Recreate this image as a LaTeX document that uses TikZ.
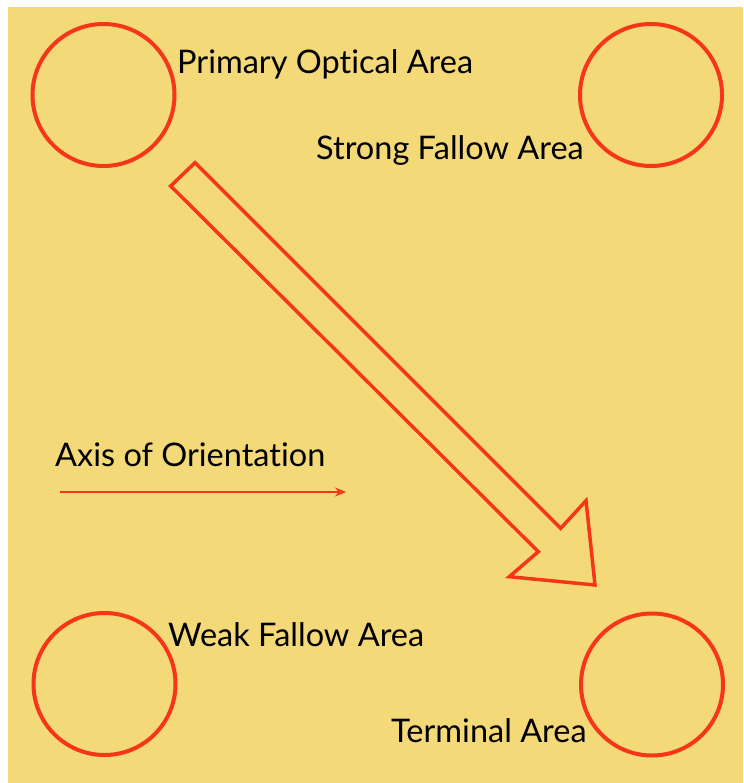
\documentclass[tikz,border=0pt]{standalone}
\usepackage{fontspec}
\setmainfont{Lato}[Ligatures={NoCommon,NoRare}]
\usetikzlibrary{arrows.meta}
\definecolor{bgyellow}{RGB}{243,217,120}
\definecolor{redline}{RGB}{246,54,24}
\tikzset{
  area/.style={circle, draw=redline, line width=4pt, minimum size=142pt, inner sep=0pt},
  lbl/.style={anchor=base west, inner sep=0pt, font=\fontsize{32.5}{37}\selectfont, text=black},
}
\begin{document}
\begin{tikzpicture}[x=1pt,y=-1pt]
\useasboundingbox (0,0) rectangle (743,783);
\fill[white] (0,0) rectangle (743,783);
\fill[bgyellow] (8,7) rectangle (743,783);
% circles
\node[area] (poa) at (103.5,95) {};
\node[area] (sfa) at (651,95) {};
\node[area] (wfa) at (104.5,684) {};
\node[area] (ta) at (652,684.5) {};
% labels
\node[lbl] (tpoa) at (177,74) {Primary Optical Area};
\node[lbl] (tsfa) at (316,160) {Strong Fallow Area};
\node[lbl] (taxis) at (55,466) {Axis of Orientat\kern0pt ion};
\node[lbl] (twfa) at (168,646) {Weak Fallow Area};
\node[lbl] (tta) at (391,742) {Terminal Area};
% axis arrow
\coordinate (axs) at (60,492);
\coordinate (axe) at (346,492);
\draw[redline, line width=2pt, -{Stealth[length=11pt,width=9pt]}] (axs) -- (axe);
% big outline arrow
\draw[redline, line width=3.5pt, line join=miter]
  (170.7,186) -- (195,162.7) -- (560.7,528.3) -- (586,500.7) -- (595,585)
  -- (509.3,576.7) -- (538.3,551.7) -- cycle;
\end{tikzpicture}
\end{document}
